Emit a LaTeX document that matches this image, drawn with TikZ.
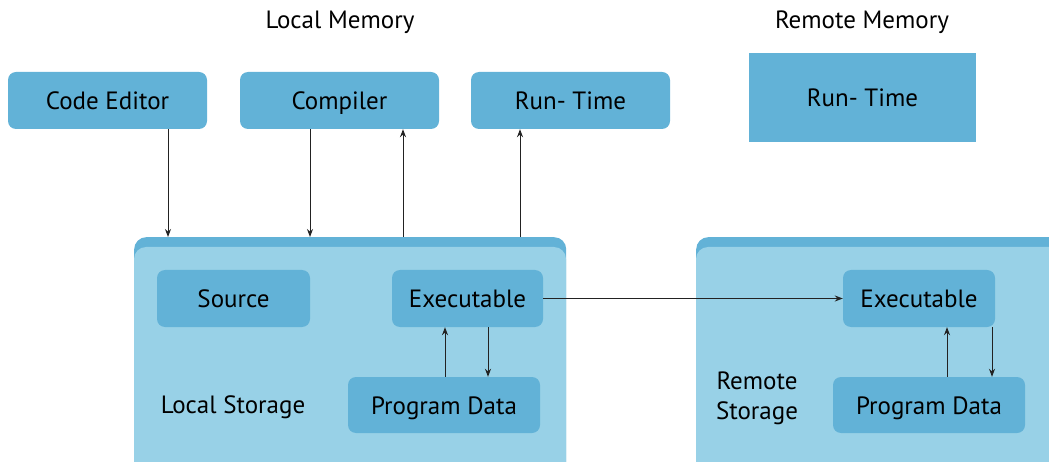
\documentclass[tikz,border=0pt]{standalone}
\usepackage{fontspec}
\setmainfont{PT Sans}
\usetikzlibrary{arrows.meta}
\definecolor{boxblue}{HTML}{62B2D7}
\definecolor{storeblue}{HTML}{98D1E7}
\definecolor{linegray}{HTML}{222222}
\tikzset{
  unit/.style={fill=boxblue, rounded corners=8pt, inner sep=0pt, text=black,
    text height=19pt, text depth=1pt, font=\fontsize{25}{30}\selectfont},
  flow/.style={draw=linegray, line width=1pt, -{Stealth[length=8pt,width=6pt]}},
  caption/.style={inner sep=0pt, font=\fontsize{25}{30}\selectfont, text=black},
}
\begin{document}
\begin{tikzpicture}[x=1pt,y=-1pt]
\useasboundingbox (0,0) rectangle (1049,462);
\begin{scope}
\clip (0,0) rectangle (1049,462);

% section headings
\node[caption] (lmem) at (340,22) {Local Memory};
\node[caption] (rmem) at (862,22) {Remote Memory};

% programs held in memory
\node[unit, minimum width=199pt, minimum height=57pt] (editor) at (107.5,100.5) {Code Editor};
\node[unit, minimum width=199pt, minimum height=57pt] (compiler) at (339.5,100.5) {Compiler};
\node[unit, minimum width=199pt, minimum height=57pt] (runtime) at (570.5,100.5) {Run- Time};
\node[unit, rounded corners=0pt, minimum width=227pt, minimum height=89pt] (rruntime) at (862.5,97.5) {Run- Time};

% local storage container
\node[fill=boxblue, rounded corners=12pt, minimum width=432pt, minimum height=250pt, inner sep=0pt, anchor=north west] (lstore) at (134,237) {};
\fill[storeblue, rounded corners=12pt] (134,247) rectangle (566,500);
% remote storage container
\node[fill=boxblue, rounded corners=12pt, minimum width=400pt, minimum height=250pt, inner sep=0pt, anchor=north west] (rstore) at (696,237) {};
\fill[storeblue, rounded corners=12pt] (696,247) rectangle (1096,500);

% local storage contents
\node[unit, minimum width=153pt, minimum height=57pt] (source) at (233.5,298.5) {Source};
\node[unit, minimum width=151pt, minimum height=57pt] (lexe) at (467.5,298.5) {Executable};
\node[unit, minimum width=192pt, minimum height=56pt] (ldata) at (444,405) {Program Data};
\node[caption] (llabel) at (233,407) {Local Storage};

% remote storage contents
\node[unit, minimum width=152pt, minimum height=57pt] (rexe) at (919,298.5) {Executable};
\node[unit, minimum width=192pt, minimum height=56pt] (rdata) at (929,405) {Program Data};
\node[caption, align=center] (rlabel) at (757,398) {Remote\\Storage};

% columns of the vertical connectors
\coordinate (c1) at (168,0);
\coordinate (c2) at (310,0);
\coordinate (c3) at (403,0);
\coordinate (c4) at (520,0);
\coordinate (c5) at (445,0);
\coordinate (c6) at (488,0);
\coordinate (c7) at (947,0);
\coordinate (c8) at (992,0);

% tool chain and local storage
\draw[flow] (editor.south -| c1) -- (lstore.north -| c1);
\draw[flow] (compiler.south -| c2) -- (lstore.north -| c2);
\draw[flow] (lstore.north -| c3) -- (compiler.south -| c3);
\draw[flow] (lstore.north -| c4) -- (runtime.south -| c4);

% executable and its data
\draw[flow] (ldata.north -| c5) -- (lexe.south -| c5);
\draw[flow] (lexe.south -| c6) -- (ldata.north -| c6);
\draw[flow] (rdata.north -| c7) -- (rexe.south -| c7);
\draw[flow] (rexe.south -| c8) -- (rdata.north -| c8);

% transfer to remote
\draw[flow] (lexe.east) -- (rexe.west);
\end{scope}
\end{tikzpicture}
\end{document}
